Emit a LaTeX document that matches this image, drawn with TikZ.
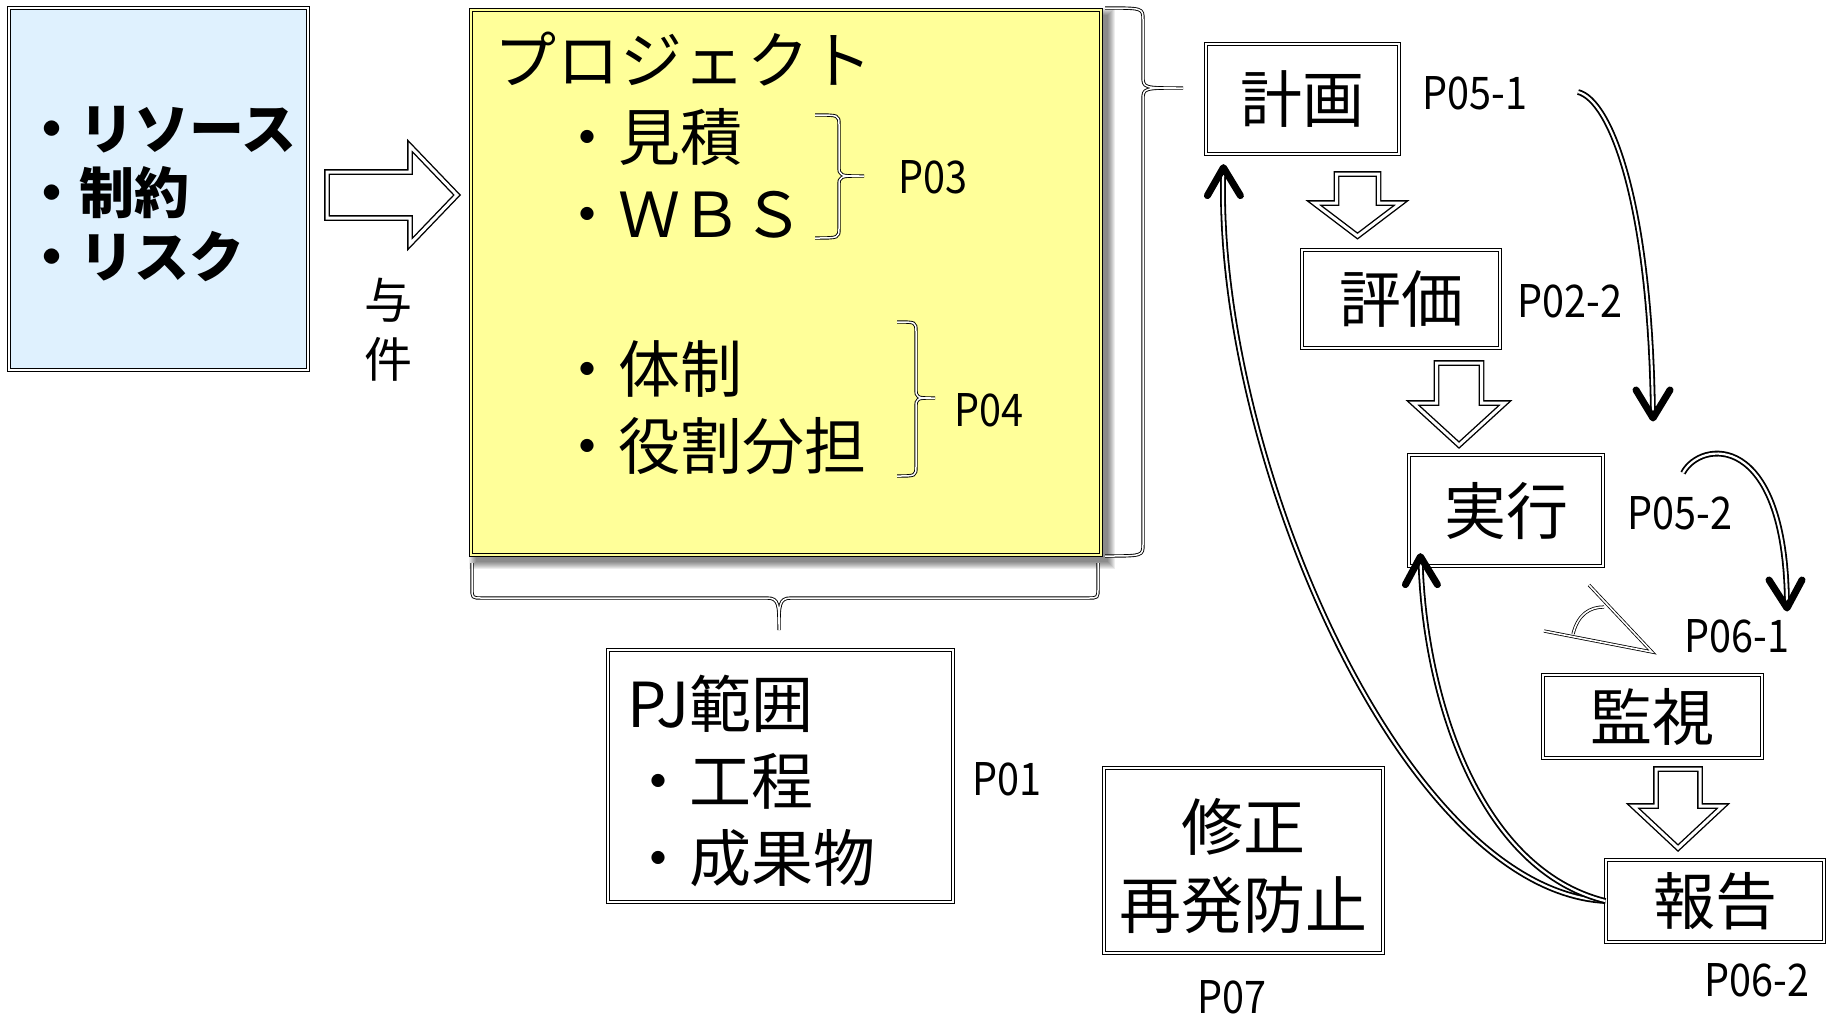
\documentclass[tikz,border=0pt]{standalone}
\usepackage{graphicx}
\usepackage{fontspec}
\setmainfont{Noto Sans CJK JP}
\usetikzlibrary{calc}
\definecolor{bluefill}{HTML}{DFF1FE}
\definecolor{yelfill}{HTML}{FFFF99}
\newcommand\myfs[2]{\fontsize{#1pt}{#2pt}\selectfont}
\newcommand\narrowtxt[1]{\scalebox{0.88}[1]{#1}}
\tikzset{
 dbl/.style={draw=black, double=white, line width=1.2pt, double distance=2.2pt},
 box/.style={dbl, rectangle, inner sep=0pt, align=center, font=\myfs{62}{78}},
 txt/.style={inner sep=0pt, align=left, anchor=west},
 lbl/.style={inner sep=0pt, font=\myfs{45}{45}},
 blk/.style={draw=black, double=white, line width=1.4pt, double distance=3pt},
 brc/.style={draw=black, double=white, line width=0.9pt, double distance=1.5pt},
 curv/.style={draw=black, double=white, line width=1.8pt, double distance=2.2pt, shorten >=6pt},
 tipv/.style={draw=black, line width=7pt, line cap=round, line join=round},
 angl/.style={draw=black, double=white, line width=0.8pt, double distance=1.6pt},
}
\begin{document}
\begin{tikzpicture}[x=1pt,y=-1pt]
\useasboundingbox (0,0) rectangle (1828,1015);
\fill[white] (0,0) rectangle (1828,1015);

% given conditions
\node[box, fill=bluefill, minimum width=299pt, minimum height=362pt] (given) at (158.5,189) {};
\node[txt, font={\myfs{55}{64}\bfseries}] (giventxt) at (24,194) {・リソース\\・制約\\・リスク};
\draw[blk] (327,172) -- (410,172) -- (410,146) -- (457,195) -- (410,244) -- (410,218) -- (327,218) -- cycle;
\node[inner sep=0pt, align=center, font={\myfs{48}{59}}] (yoken) at (388,330) {与\\件};

% project box with shadow
\foreach \k in {1,...,8}
  \fill[black, opacity=0.07] (468+\k, 7+\k) rectangle (1116-\k, 570-\k);
\node[box, fill=yelfill, double=yelfill, minimum width=630pt, minimum height=545pt] (proj) at (786,282.5) {};
\node[txt, font={\myfs{62}{77.3}}] (projtxt) at (494,253.5) {{\addfontfeature{LetterSpace=2}プロジェクト}\\　・見積\\　・ＷＢＳ\\[77.3pt]　・体制\\　・役割分担};

% braces
\draw[brc] (1105,8) .. controls (1143,8) .. (1143,20) -- (1143,76) .. controls (1143,88) .. (1183,88) .. controls (1143,88) .. (1143,100) -- (1143,544) .. controls (1143,556) .. (1105,556);
\draw[brc] (472,563) -- (472,588) .. controls (472,598) .. (482,598) -- (767,598) .. controls (779,598) and (779,605) .. (779,630) .. controls (779,605) and (779,598) .. (791,598) -- (1088,598) .. controls (1098,598) .. (1098,588) -- (1098,563);
\draw[brc] (815,115) .. controls (839,115) .. (839,125) -- (839,166) .. controls (839,176) .. (864,176) .. controls (839,176) .. (839,186) -- (839,228) .. controls (839,238) .. (815,238);
\draw[brc] (897,322) .. controls (916,322) .. (916,332) -- (916,388) .. controls (916,398) .. (935,398) .. controls (916,398) .. (916,408) -- (916,466) .. controls (916,476) .. (897,476);
\node[lbl] (p03) at (933,177) {\narrowtxt{P03}};
\node[lbl] (p04) at (989,410) {\narrowtxt{P04}};

% PJ scope
\node[box, minimum width=345pt, minimum height=252pt] (pj) at (780.5,776) {};
\node[txt, font={\myfs{62}{77}}] (pjtxt) at (627,781) {PJ範囲\\・工程\\・成果物};
\node[lbl] (p01) at (1007,779) {\narrowtxt{P01}};

% correction
\node[box, minimum width=279pt, minimum height=185pt] (fix) at (1243.5,860.5) {};
\node[inner sep=0pt, align=center, font={\myfs{62}{78}}] (fixtxt) at (1243,866) {修正\\再発防止};
\node[lbl] (p07) at (1232,997) {\narrowtxt{P07}};

% cycle
\node[box, minimum width=193pt, minimum height=110pt] (plan) at (1302.5,99) {計画};
\node[lbl] (p051) at (1475,93) {\narrowtxt{P05-1}};
\draw[blk] (1336.5,174) -- (1378.5,174) -- (1378.5,203) -- (1401,203) -- (1357.5,236) -- (1314,203) -- (1336.5,203) -- cycle;
\node[box, minimum width=198pt, minimum height=98pt] (eval) at (1401,299) {評価};
\node[lbl] (p022) at (1570,301) {\narrowtxt{P02-2}};
\draw[blk] (1436.5,363) -- (1481.5,363) -- (1481.5,403) -- (1505,403) -- (1459,445) -- (1413,403) -- (1436.5,403) -- cycle;
\node[box, minimum width=194pt, minimum height=111pt] (exec) at (1506,510.5) {実行};
\node[lbl] (p052) at (1680,513) {\narrowtxt{P05-2}};
\node[box, minimum width=219pt, minimum height=83pt] (mon) at (1652.5,716.5) {監視};
\node[lbl] (p061) at (1737,636) {\narrowtxt{P06-1}};
\draw[blk] (1656,769) -- (1700,769) -- (1700,806) -- (1723,806) -- (1678,848) -- (1633,806) -- (1656,806) -- cycle;
\node[box, minimum width=218pt, minimum height=82pt] (rep) at (1715,901) {報告};
\node[lbl] (p062) at (1757,980) {\narrowtxt{P06-2}};

% angle symbol
\draw[angl] (1544,631) -- (1652,652) -- (1589,585);
\draw[angl] (1573,634) .. controls (1578,614) and (1590,607) .. (1604,607);

% curved arrows
\coordinate (c51s) at (1578,92);
\coordinate (c51e) at (1653,418);
\coordinate (c52s) at (1683,473);
\coordinate (c52e) at (1787,608);
\coordinate (tipA) at ($(plan.south west)+(18,13)$);
\coordinate (tipB) at ($(exec.south west)+(12,-10)$);
\draw[curv] (c51s) .. controls (1610,100) and (1650,200) .. (c51e);
\draw[tipv] ($(c51e)+(-17,-28)$) -- (c51e) -- ($(c51e)+(17,-28)$);
\draw[curv] (c52s) .. controls (1700,440) and (1785,430) .. (c52e);
\draw[tipv] ($(c52e)+(-18,-28)$) -- (c52e) -- ($(c52e)+(15,-28)$);
\draw[curv] (rep.west) .. controls (1400,890) and (1215,450) .. (tipA);
\draw[tipv] ($(tipA)+(-16,28)$) -- (tipA) -- ($(tipA)+(17,28)$);
\draw[curv] (rep.west) .. controls (1480,870) and (1425,700) .. (tipB);
\draw[tipv] ($(tipB)+(-15,28)$) -- (tipB) -- ($(tipB)+(17,28)$);
\end{tikzpicture}
\end{document}
